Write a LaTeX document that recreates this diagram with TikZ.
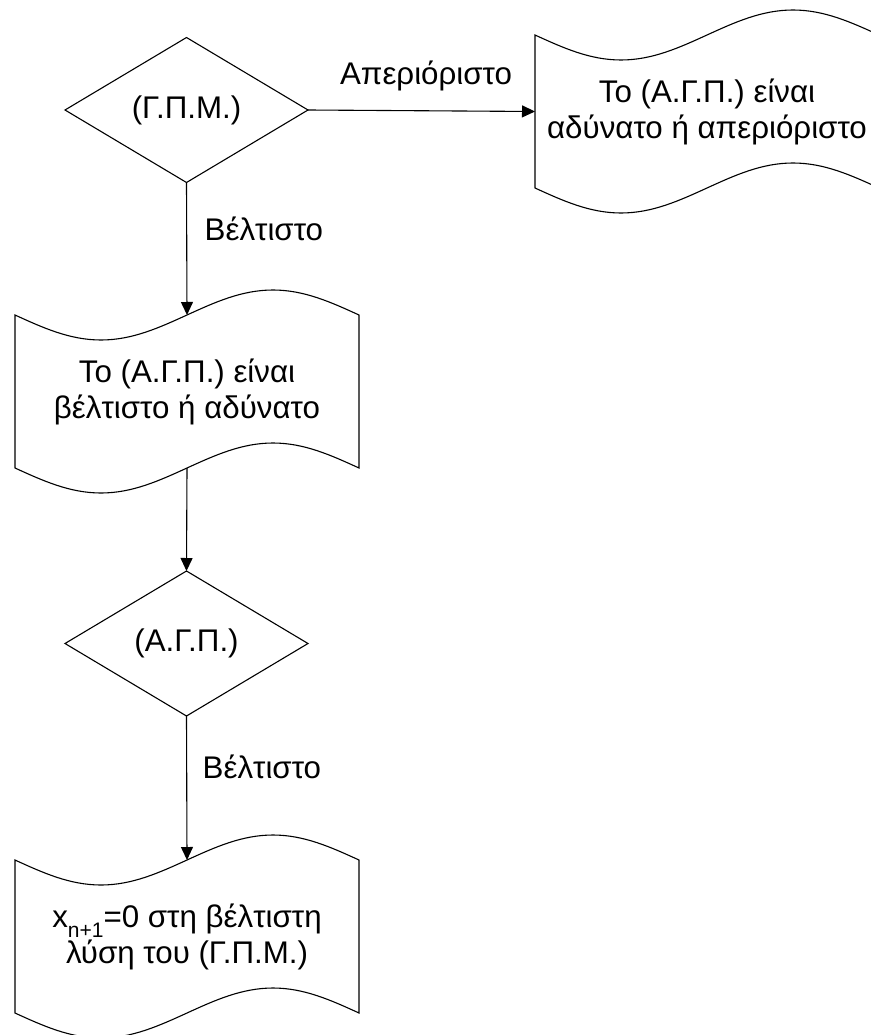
\documentclass[tikz,border=0pt]{standalone}
\usepackage{fontspec}
\setmainfont{Liberation Sans}
\usetikzlibrary{shapes.geometric,arrows.meta}
% wavy outline (punched tape) round a named node
\newcommand{\tapeframe}[1]{%
  \draw (#1.north west) sin ++(86,-25) cos ++(86,25) sin ++(86,25) cos ++(86,-25)
    -- (#1.south east) sin ++(-86,25) cos ++(-86,-25) sin ++(-86,-25) cos ++(-86,25) -- cycle;}
\begin{document}
\begin{tikzpicture}[x=1pt,y=1pt,inner sep=0pt,outer sep=0pt,line width=1.1pt,
font=\fontsize{31.3}{36}\selectfont,>={Triangle[length=13pt,width=12pt]},
decision/.style={draw,diamond,aspect=1.67,minimum width=243pt,minimum height=145pt,line width=1.1pt},
tapeblock/.style={rectangle,align=center,minimum width=344pt,minimum height=153pt}]
\useasboundingbox (0,0) rectangle (870,-1035);
\draw (186.5,-110) node[decision] (gpm) {(Γ.Π.Μ.)};
\draw (707,-111.5) node[tapeblock] (unb) {Το (Α.Γ.Π.) είναι\\αδύνατο ή απεριόριστο};
\draw (187,-391.5) node[tapeblock] (opt) {Το (Α.Γ.Π.) είναι\\βέλτιστο ή αδύνατο};
\draw (186.5,-643.5) node[decision] (agp) {(Α.Γ.Π.)};
\draw (187,-936.5) node[tapeblock] (sol) {x\raisebox{-10pt}{\fontsize{21}{21}\selectfont n+1}=0 στη βέλτιστη\\λύση του (Γ.Π.Μ.)};
\tapeframe{unb}
\tapeframe{opt}
\tapeframe{sol}
\draw[->] (gpm.east) -- (unb.west) node[pos=0.52,above=20pt] {Απεριόριστο};
\draw[->] (gpm.south) -- (opt.north) node[pos=0.35,right=18pt] {Βέλτιστο};
\draw[->] (opt.south) -- (agp.north);
\draw[->] (agp.south) -- (sol.north) node[pos=0.35,right=16pt] {Βέλτιστο};
\end{tikzpicture}
\end{document}
